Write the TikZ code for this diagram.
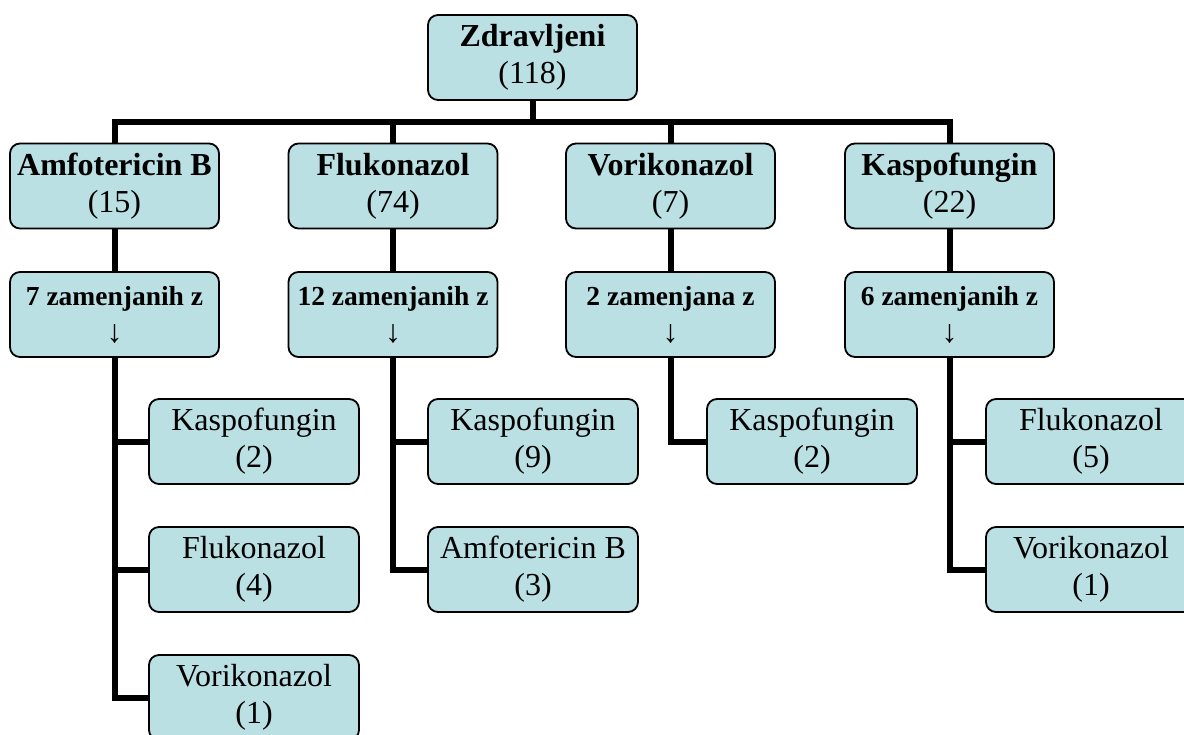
\documentclass[tikz,border=0pt]{standalone}
\usepackage{fontspec}
\setmainfont{Liberation Serif}
\definecolor{boxfill}{RGB}{187,224,227}
\newcommand{\dnarrow}{{\fontsize{32}{37}\selectfont\mdseries ↓}}
\tikzset{
  box/.style={draw=black, line width=1.8pt, fill=boxfill, rounded corners=10pt,
    minimum width=209pt, minimum height=85pt, inner sep=0pt, align=center,
    font=\fontsize{32}{37}\selectfont},
  subbox/.style={box, font=\fontsize{27.5}{37}\selectfont},
  leafbox/.style={box, minimum width=210pt},
  conn/.style={draw=black, line width=6pt}
}
\begin{document}
\begin{tikzpicture}[x=1pt,y=-1pt]
\useasboundingbox (0,0) rectangle (1184,734);
\clip (0,0) rectangle (1184,734);
% root
\node[box] (root) at (532.5,57.5) {\textbf{Zdravljeni}\\(118)};
% level 1
\node[box] (a1) at (114.5,186) {\textbf{Amfotericin B}\\(15)};
\node[box] (f1) at (393,186) {\textbf{Flukonazol}\\(74)};
\node[box] (v1) at (670.5,186) {\textbf{Vorikonazol}\\(7)};
\node[box] (k1) at (949.5,186) {\textbf{Kaspofungin}\\(22)};
% level 2
\node[subbox] (a2) at (114.5,314.5) {\textbf{7 zamenjanih z}\\\dnarrow};
\node[subbox] (f2) at (393,314.5) {\textbf{12 zamenjanih z}\\\dnarrow};
\node[subbox] (v2) at (670.5,314.5) {\textbf{2 zamenjana z}\\\dnarrow};
\node[subbox] (k2) at (949.5,314.5) {\textbf{6 zamenjanih z}\\\dnarrow};
% leaves
\node[leafbox] (a31) at (254,441.5) {Kaspofungin\\(2)};
\node[leafbox] (a32) at (254,569.5) {Flukonazol\\(4)};
\node[leafbox] (a33) at (254,697.5) {Vorikonazol\\(1)};
\node[leafbox] (f31) at (533,441.5) {Kaspofungin\\(9)};
\node[leafbox] (f32) at (533,569.5) {Amfotericin B\\(3)};
\node[leafbox] (v31) at (812,441.5) {Kaspofungin\\(2)};
\node[leafbox] (k31) at (1091,441.5) {Flukonazol\\(5)};
\node[leafbox] (k32) at (1091,569.5) {Vorikonazol\\(1)};
% connectors
\coordinate (bar) at (0,122);
\foreach \c in {a1,f1,v1,k1}{
  \draw[conn] (root.south) -- (root.south |- bar) -| (\c.north);
}
\draw[conn] (a1.south) -- (a2.north);
\draw[conn] (f1.south) -- (f2.north);
\draw[conn] (v1.south) -- (v2.north);
\draw[conn] (k1.south) -- (k2.north);
\foreach \c in {a31,a32,a33}{\draw[conn] (a2.south) |- (\c.west);}
\foreach \c in {f31,f32}{\draw[conn] (f2.south) |- (\c.west);}
\draw[conn] (v2.south) |- (v31.west);
\foreach \c in {k31,k32}{\draw[conn] (k2.south) |- (\c.west);}
\end{tikzpicture}
\end{document}
